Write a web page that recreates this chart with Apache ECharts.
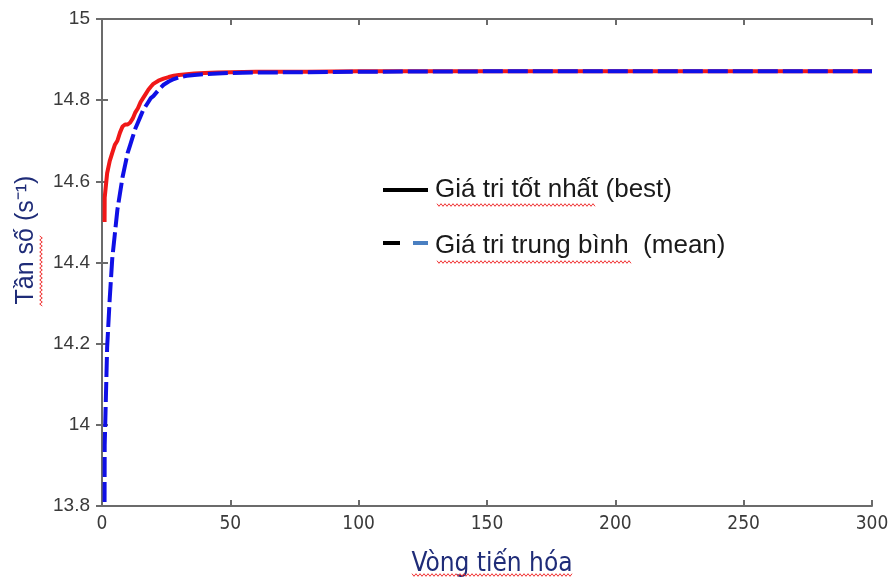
<!DOCTYPE html>
<html>
<head>
    <meta charset="UTF-8">
    <script type="text/javascript" src="https://cdn.jsdelivr.net/npm/echarts@6/dist/echarts.min.js"></script>
    <style>
        body { margin: 0; background: #fff; }
    </style>
</head>
<body>
    <div style="height: 577px;width: 893px" id="myDiv"></div>
    <script type="text/javascript">
        // vong tien hoa (generation)
        var gens = [1, 1.05, 2, 3, 4, 5, 6, 7, 8, 9, 10, 11, 12, 13, 14, 15, 16, 17, 18, 19, 20,
            22, 24, 26, 28, 30, 33, 36, 40, 45, 50, 60, 80, 100, 150, 200, 250, 300];
        // gia tri tot nhat (best)
        var bestVals = [14.50, 14.56, 14.62, 14.65, 14.67, 14.69, 14.70, 14.72, 14.735, 14.74, 14.74,
            14.745, 14.755, 14.77, 14.78, 14.795, 14.805, 14.815, 14.825, 14.833, 14.84,
            14.848, 14.853, 14.857, 14.860, 14.862, 14.864, 14.866, 14.867, 14.868, 14.869,
            14.870, 14.870, 14.871, 14.871, 14.871, 14.871, 14.871];
        // gia tri trung binh (mean)
        var meanVals = [13.81, 13.95, 14.19, 14.31, 14.41, 14.47, 14.53, 14.57, 14.61, 14.64, 14.67,
            14.69, 14.71, 14.73, 14.745, 14.76, 14.775, 14.785, 14.795, 14.805, 14.81,
            14.825, 14.838, 14.846, 14.852, 14.856, 14.860, 14.862, 14.864, 14.866, 14.867,
            14.868, 14.869, 14.870, 14.871, 14.871, 14.871, 14.871];
        var xTicks = [0, 50, 100, 150, 200, 250, 300];
        var yTicks = [13.8, 14, 14.2, 14.4, 14.6, 14.8, 15];

        function pairs(xs, ys) {
            var out = [];
            for (var i = 0; i < xs.length; i++) {
                out.push([xs[i], ys[i]]);
            }
            return out;
        }

        // red spell-check squiggle (horizontal or vertical)
        function squiggle(x, y, len, vertical) {
            var pts = [];
            for (var i = 0; i <= len; i += 2) {
                var d = (i / 2) % 2 === 0 ? -1.3 : 1.3;
                pts.push(vertical ? [x + d, y + i] : [x + i, y + d]);
            }
            return {type: 'polyline', shape: {points: pts}, style: {stroke: '#f03030', lineWidth: 1, fill: null}, z: 10};
        }

        var chart = echarts.init(document.getElementById("myDiv"));
        var axisCol = '#6b6b6b';
        var nameCol = '#1f2c78';
        var baseX = {
            type: 'value',
            min: xTicks[0],
            max: xTicks[xTicks.length - 1],
            interval: 50,
            splitLine: {show: false},
            axisLine: {lineStyle: {color: axisCol, width: 2}},
            axisTick: {inside: true, length: 6, lineStyle: {color: axisCol, width: 2}}
        };
        var baseY = {
            type: 'value',
            min: yTicks[0],
            max: yTicks[yTicks.length - 1],
            interval: 0.2,
            splitLine: {show: false},
            axisLine: {lineStyle: {color: axisCol, width: 2}},
            axisTick: {inside: true, length: 6, lineStyle: {color: axisCol, width: 2}}
        };

        var option = {
            animation: false,
            grid: {left: 102, right: 21, top: 19, bottom: 71, outerBoundsMode: 'none', containLabel: false},
            xAxis: [
                Object.assign({}, baseX, {
                    position: 'bottom',
                    axisLabel: {
                        color: '#3a3a3a', fontSize: 19, margin: 9,
                        fontFamily: '"DejaVu Sans Condensed", "Liberation Sans"'
                    }
                }),
                Object.assign({}, baseX, {position: 'top', axisLabel: {show: false}})
            ],
            yAxis: [
                Object.assign({}, baseY, {
                    position: 'left',
                    axisLabel: {
                        color: '#3a3a3a', fontSize: 19, margin: 12,
                        fontFamily: '"Liberation Sans", Arial',
                        formatter: function (v) { return String(+v.toFixed(1)); }
                    }
                }),
                Object.assign({}, baseY, {position: 'right', axisLabel: {show: false}})
            ],
            series: [
                {
                    name: 'best',
                    type: 'line',
                    showSymbol: false,
                    data: pairs(gens, bestVals),
                    lineStyle: {color: '#f01818', width: 4},
                    z: 2
                },
                {
                    name: 'mean',
                    type: 'line',
                    showSymbol: false,
                    data: pairs(gens, meanVals),
                    lineStyle: {color: '#1010e6', width: 4, type: [20, 5]},
                    z: 3
                }
            ],
            graphic: [
                {
                    type: 'text', x: 26, y: 240, rotation: Math.PI / 2,
                    style: {
                        text: 'Tần số (s⁻¹)', fill: nameCol, align: 'center', verticalAlign: 'middle',
                        font: '25px "Liberation Sans", Arial'
                    }
                },
                squiggle(41, 236, 70, true),
                {
                    type: 'text', x: 492, y: 564,
                    style: {
                        text: 'Vòng tiến hóa', fill: nameCol, align: 'center', verticalAlign: 'middle',
                        font: '26px "DejaVu Sans Condensed", "Liberation Sans"'
                    }
                },
                squiggle(412, 575, 160, false),
                {type: 'line', shape: {x1: 383, y1: 190, x2: 428, y2: 190}, style: {stroke: '#000', lineWidth: 4}},
                {type: 'text', x: 435, y: 190, style: {text: 'Giá tri tốt nhất (best)', fill: '#1a1a1a', verticalAlign: 'middle', font: '26px "Liberation Sans", Arial'}},
                squiggle(437, 205, 158, false),
                {type: 'line', shape: {x1: 383, y1: 243, x2: 400, y2: 243}, style: {stroke: '#000', lineWidth: 4}},
                {type: 'line', shape: {x1: 413, y1: 243, x2: 428, y2: 243}, style: {stroke: '#4a7fc1', lineWidth: 4}},
                {type: 'text', x: 435, y: 246, style: {text: 'Giá tri trung bình  (mean)', fill: '#1a1a1a', verticalAlign: 'middle', font: '26px "Liberation Sans", Arial'}},
                squiggle(437, 262, 195, false)
            ]
        };
        chart.setOption(option);
    </script>
</body>
</html>
